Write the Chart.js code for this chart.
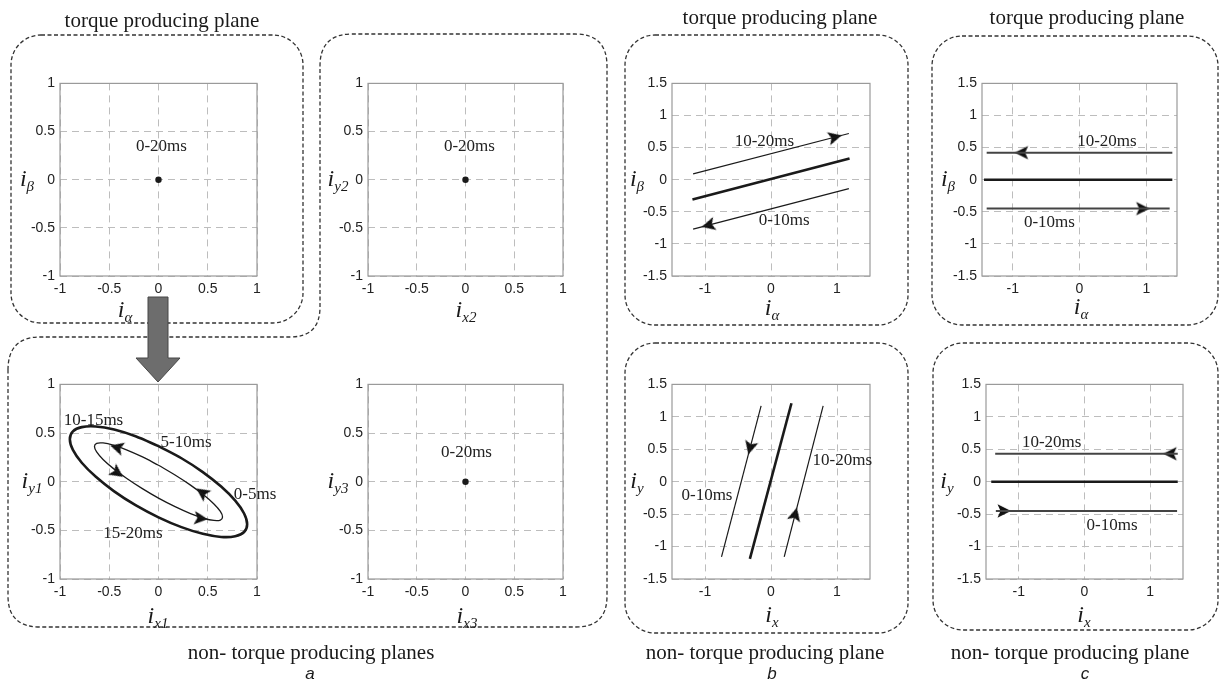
<!DOCTYPE html>
<html>
<head>
<meta charset="utf-8">
<script src="https://cdn.jsdelivr.net/npm/chart.js@4.4.0/dist/chart.umd.min.js"></script>
<style>
  body { margin: 0; background: #fff; width: 1221px; height: 684px; position: relative; overflow: hidden; }
  .panel { position: absolute; }
  .t { position: absolute; transform: translate(-50%, -50%); white-space: nowrap; color: #1a1a1a;
       font-family: "Liberation Serif", "Times New Roman", serif; font-size: 21px; }
  .ax { position: absolute; transform: translate(-50%, -50%); white-space: nowrap; color: #1a1a1a;
        font-family: "Liberation Serif", serif; font-style: italic; font-size: 24px; line-height: 24px; }
  .ax span { font-size: 15px; position: relative; top: 5px; }
  .lt { position: absolute; transform: translate(-50%, -50%); font-family: "Liberation Sans", Arial, sans-serif;
        font-style: italic; font-size: 17px; color: #1a1a1a; }
  svg { position: absolute; left: 0; top: 0; }
</style>
</head>
<body>

<svg width="1221" height="684">
  <g fill="none" stroke="#333" stroke-width="1.3" stroke-dasharray="4 2.5">
    <rect x="11" y="35" width="292" height="288" rx="30" ry="30"/>
    <path d="M 8 370 Q 8 337 40 337 L 290 337 Q 320 337 320 307 L 320 66 Q 320 34 352 34 L 575 34 Q 607 34 607 66 L 607 596 Q 607 627 576 627 L 40 627 Q 8 627 8 596 Z"/>
    <rect x="625" y="35" width="283" height="290" rx="30" ry="30"/>
    <rect x="625" y="343" width="283" height="290" rx="30" ry="30"/>
    <rect x="932" y="36" width="286" height="289" rx="30" ry="30"/>
    <rect x="933" y="343" width="285" height="287" rx="30" ry="30"/>
  </g>
</svg>

<div id="a1" class="panel"></div>
<div id="a2" class="panel"></div>
<div id="a3" class="panel"></div>
<div id="a4" class="panel"></div>
<div id="b1" class="panel"></div>
<div id="b2" class="panel"></div>
<div id="c1" class="panel"></div>
<div id="c2" class="panel"></div>

<svg width="1221" height="684">
  <polygon points="148,297 168,297 168,358 180,358 158,382 136,358 148,358" fill="#6d6d6d" stroke="#474747" stroke-width="1"/>
</svg>

<div class="t" style="left:162px;top:20px">torque producing plane</div>
<div class="t" style="left:780px;top:17px">torque producing plane</div>
<div class="t" style="left:1087px;top:17px">torque producing plane</div>
<div class="t" style="left:311px;top:652px">non- torque producing planes</div>
<div class="t" style="left:765px;top:652px">non- torque producing plane</div>
<div class="t" style="left:1070px;top:652px">non- torque producing plane</div>
<div class="lt" style="left:310px;top:674px">a</div>
<div class="lt" style="left:772px;top:674px">b</div>
<div class="lt" style="left:1085px;top:674px">c</div>

<div class="ax" style="left:27px;top:179px">i<span>β</span></div>
<div class="ax" style="left:125px;top:310px">i<span>α</span></div>
<div class="ax" style="left:338px;top:179px">i<span>y2</span></div>
<div class="ax" style="left:466px;top:310px">i<span>x2</span></div>
<div class="ax" style="left:32px;top:481px">i<span>y1</span></div>
<div class="ax" style="left:158px;top:616px">i<span>x1</span></div>
<div class="ax" style="left:338px;top:481px">i<span>y3</span></div>
<div class="ax" style="left:467px;top:616px">i<span>x3</span></div>
<div class="ax" style="left:637px;top:179px">i<span>β</span></div>
<div class="ax" style="left:772px;top:308px">i<span>α</span></div>
<div class="ax" style="left:637px;top:481px">i<span>y</span></div>
<div class="ax" style="left:772px;top:615px">i<span>x</span></div>
<div class="ax" style="left:948px;top:179px">i<span>β</span></div>
<div class="ax" style="left:1081px;top:307px">i<span>α</span></div>
<div class="ax" style="left:947px;top:481px">i<span>y</span></div>
<div class="ax" style="left:1084px;top:615px">i<span>x</span></div>

<script>
// tick labels
const aTicks = [-1, -0.5, 0, 0.5, 1];
const bcYTicks = [-1.5, -1, -0.5, 0, 0.5, 1, 1.5];
const bcXTicks = [-1, 0, 1];

// a: torque plane and planes 2, 3 stay at the origin
const a1Point = [{x: 0, y: 0}];
const a2Point = [{x: 0, y: 0}];
const a4Point = [{x: 0, y: 0}];

// a: x1-y1 plane, two ellipses
const ellOuterX = [0, 0.233, 0.45, 0.636, 0.779, 0.869, 0.9, 0.869, 0.779, 0.636, 0.45, 0.233,
                   0, -0.233, -0.45, -0.636, -0.779, -0.869, -0.9, -0.869, -0.779, -0.636, -0.45, -0.233, 0];
const ellOuterY = [0.366, 0.241, 0.099, -0.050, -0.195, -0.327, -0.437, -0.517, -0.561, -0.568, -0.536, -0.467,
                   -0.366, -0.241, -0.099, 0.050, 0.195, 0.327, 0.437, 0.517, 0.561, 0.568, 0.536, 0.467, 0.366];
const ellInnerX = [0, 0.168, 0.325, 0.46, 0.563, 0.628, 0.65, 0.628, 0.563, 0.46, 0.325, 0.168,
                   0, -0.168, -0.325, -0.46, -0.563, -0.628, -0.65, -0.628, -0.563, -0.46, -0.325, -0.168, 0];
const ellInnerY = [0.169, 0.069, -0.035, -0.137, -0.229, -0.306, -0.362, -0.394, -0.398, -0.376, -0.328, -0.257,
                   -0.169, -0.069, 0.035, 0.137, 0.229, 0.306, 0.362, 0.394, 0.398, 0.376, 0.328, 0.257, 0.169];
const ellArrows = [
  {x: -0.49, y: 0.372, dx: -1, dy: 0.29},
  {x: -0.36, y: 0.05, dx: 1, dy: -0.71},
  {x: 0.385, y: -0.07, dx: -1, dy: 0.71},
  {x: 0.50, y: -0.385, dx: 1, dy: -0.11}
];

// b: torque plane
const b1MidX = [-1.19, 1.19], b1MidY = [-0.31, 0.33];
const b1UpX = [-1.18, 1.18], b1UpY = [0.09, 0.72];
const b1LowX = [1.18, -1.18], b1LowY = [-0.14, -0.77];
const b1Arrows = [{x: 1.07, y: 0.69, dx: 1, dy: 0.266}, {x: -1.05, y: -0.735, dx: -1, dy: -0.266}];

// b: x-y plane
const b2MidX = [-0.32, 0.31], b2MidY = [-1.19, 1.21];
const b2LeftX = [-0.15, -0.75], b2LeftY = [1.17, -1.16];
const b2RightX = [0.20, 0.79], b2RightY = [-1.16, 1.17];
const b2Arrows = [{x: -0.343, y: 0.42, dx: -0.6, dy: -2.33}, {x: 0.392, y: -0.40, dx: 0.59, dy: 2.33}];

// c: torque plane
const c1MidX = [-1.43, 1.39], c1MidY = [0, 0];
const c1UpX = [1.39, -1.39], c1UpY = [0.42, 0.42];
const c1LowX = [-1.39, 1.35], c1LowY = [-0.45, -0.45];
const c1Arrows = [{x: -0.97, y: 0.42, dx: -1, dy: 0}, {x: 1.05, y: -0.45, dx: 1, dy: 0}];

// c: x-y plane
const c2MidX = [-1.42, 1.42], c2MidY = [0, 0];
const c2UpX = [1.42, -1.36], c2UpY = [0.43, 0.43];
const c2LowX = [-1.35, 1.41], c2LowY = [-0.45, -0.45];
const c2Arrows = [{x: 1.2, y: 0.43, dx: -1, dy: 0}, {x: -1.12, y: -0.45, dx: 1, dy: 0}];

const zip = (xs, ys) => xs.map((x, i) => ({x: x, y: ys[i]}));

function makeArrowHead() {
  const c = document.createElement('canvas');
  c.width = 30; c.height = 30;
  const g = c.getContext('2d');
  g.fillStyle = '#111';
  g.beginPath();
  g.moveTo(15, 15); g.lineTo(1.5, 8.2); g.lineTo(4.5, 15); g.lineTo(1.5, 21.8);
  g.closePath();
  g.fill();
  return c;
}
const arrowHead = makeArrowHead();

function arrowAngle(ctx) {
  const p = ctx.raw;
  if (!p || p.dx === undefined) return 0;
  const sx = ctx.chart.scales.x, sy = ctx.chart.scales.y;
  const dx = sx.getPixelForValue(p.x + p.dx * 0.1) - sx.getPixelForValue(p.x);
  const dy = sy.getPixelForValue(p.y + p.dy * 0.1) - sy.getPixelForValue(p.y);
  return Math.atan2(dy, dx) * 180 / Math.PI;
}

function line(pts, width, color, tension) {
  return {data: pts, showLine: true, borderColor: color, borderWidth: width,
          pointRadius: 0, tension: tension || 0, fill: false};
}
function dot(pts) {
  return {data: pts, showLine: false, pointRadius: 3.2, pointBackgroundColor: '#1a1a1a', pointBorderWidth: 0};
}
function arrows(pts) {
  return {data: pts, showLine: false, pointStyle: arrowHead, pointRadius: 6, pointRotation: arrowAngle};
}

function makePanel(id, box, xr, yr, xt, yt, datasets, labels) {
  const padL = 46, padT = 12, padR = 40, padB = 26;
  const W = box.w + padL + padR, H = box.h + padT + padB;
  const holder = document.getElementById(id);
  holder.style.left = (box.l - padL) + 'px';
  holder.style.top = (box.t - padT) + 'px';
  holder.style.width = W + 'px';
  holder.style.height = H + 'px';
  const cv = document.createElement('canvas');
  cv.width = W; cv.height = H;
  cv.style.width = W + 'px'; cv.style.height = H + 'px';
  holder.appendChild(cv);

  const frame = {
    id: 'frame' + id,
    beforeDatasetsDraw(chart) {
      const a = chart.chartArea, c = chart.ctx;
      c.save();
      c.strokeStyle = '#9a9a9a';
      c.lineWidth = 1.2;
      c.strokeRect(a.left, a.top, a.right - a.left, a.bottom - a.top);
      c.restore();
    },
    afterDatasetsDraw(chart) {
      const c = chart.ctx, sx = chart.scales.x, sy = chart.scales.y;
      c.save();
      c.font = '17px "Liberation Serif", serif';
      c.fillStyle = '#222';
      c.textAlign = 'center';
      c.textBaseline = 'middle';
      labels.forEach(l => c.fillText(l.text, sx.getPixelForValue(l.x), sy.getPixelForValue(l.y)));
      c.restore();
    }
  };

  const axis = (range, ticks, fit) => ({
    type: 'linear', min: range[0], max: range[1],
    afterFit: fit,
    afterBuildTicks: s => { s.ticks = ticks.map(v => ({value: v})); },
    grid: {color: '#bdbdbd', lineWidth: 1, drawTicks: false},
    border: {display: false, dash: [7, 5]},
    ticks: {padding: 5, color: '#222', autoSkip: false, maxRotation: 0,
            font: {family: 'Liberation Sans', size: 14}, callback: v => String(v)}
  });

  new Chart(cv, {
    type: 'scatter',
    data: {datasets: datasets},
    options: {
      responsive: false, animation: false, events: [],
      layout: {padding: {top: padT, right: padR, left: 0, bottom: 0}},
      plugins: {legend: {display: false}, tooltip: {enabled: false}},
      scales: {
        x: axis(xr, xt, s => { s.height = padB; }),
        y: axis(yr, yt, s => { s.width = padL; })
      }
    },
    plugins: [frame]
  });
}

const dark = '#1a1a1a';

makePanel('a1', {l: 60, t: 82, w: 197, h: 194}, [-1, 1], [-1, 1], aTicks, aTicks,
  [dot(a1Point)], [{text: '0-20ms', x: 0.03, y: 0.34}]);

makePanel('a2', {l: 368, t: 82, w: 195, h: 194}, [-1, 1], [-1, 1], aTicks, aTicks,
  [dot(a2Point)], [{text: '0-20ms', x: 0.04, y: 0.34}]);

makePanel('a3', {l: 60, t: 383, w: 197, h: 196}, [-1, 1], [-1, 1], aTicks, aTicks,
  [line(zip(ellOuterX, ellOuterY), 2.6, dark, 0.34),
   line(zip(ellInnerX, ellInnerY), 1.3, dark, 0.34),
   arrows(ellArrows)],
  [{text: '10-15ms', x: -0.66, y: 0.63}, {text: '5-10ms', x: 0.28, y: 0.40},
   {text: '0-5ms', x: 0.98, y: -0.13}, {text: '15-20ms', x: -0.26, y: -0.53}]);

makePanel('a4', {l: 368, t: 383, w: 195, h: 196}, [-1, 1], [-1, 1], aTicks, aTicks,
  [dot(a4Point)], [{text: '0-20ms', x: 0.01, y: 0.30}]);

makePanel('b1', {l: 672, t: 82, w: 198, h: 194}, [-1.5, 1.5], [-1.5, 1.5], bcXTicks, bcYTicks,
  [line(zip(b1MidX, b1MidY), 2.6, dark),
   line(zip(b1UpX, b1UpY), 1.2, dark),
   line(zip(b1LowX, b1LowY), 1.2, dark),
   arrows(b1Arrows)],
  [{text: '10-20ms', x: -0.10, y: 0.60}, {text: '0-10ms', x: 0.20, y: -0.63}]);

makePanel('b2', {l: 672, t: 383, w: 198, h: 196}, [-1.5, 1.5], [-1.5, 1.5], bcXTicks, bcYTicks,
  [line(zip(b2MidX, b2MidY), 2.6, dark),
   line(zip(b2LeftX, b2LeftY), 1.2, dark),
   line(zip(b2RightX, b2RightY), 1.2, dark),
   arrows(b2Arrows)],
  [{text: '0-10ms', x: -0.97, y: -0.21}, {text: '10-20ms', x: 1.08, y: 0.33}]);

makePanel('c1', {l: 982, t: 82, w: 195, h: 194}, [-1.46, 1.46], [-1.5, 1.5], bcXTicks, bcYTicks,
  [line(zip(c1MidX, c1MidY), 2.6, dark),
   line(zip(c1UpX, c1UpY), 2, '#444'),
   line(zip(c1LowX, c1LowY), 2, '#444'),
   arrows(c1Arrows)],
  [{text: '10-20ms', x: 0.41, y: 0.60}, {text: '0-10ms', x: -0.45, y: -0.66}]);

makePanel('c2', {l: 986, t: 383, w: 197, h: 196}, [-1.5, 1.5], [-1.5, 1.5], bcXTicks, bcYTicks,
  [line(zip(c2MidX, c2MidY), 2.6, dark),
   line(zip(c2UpX, c2UpY), 2, '#444'),
   line(zip(c2LowX, c2LowY), 2, '#444'),
   arrows(c2Arrows)],
  [{text: '10-20ms', x: -0.50, y: 0.61}, {text: '0-10ms', x: 0.42, y: -0.67}]);
</script>
</body>
</html>
